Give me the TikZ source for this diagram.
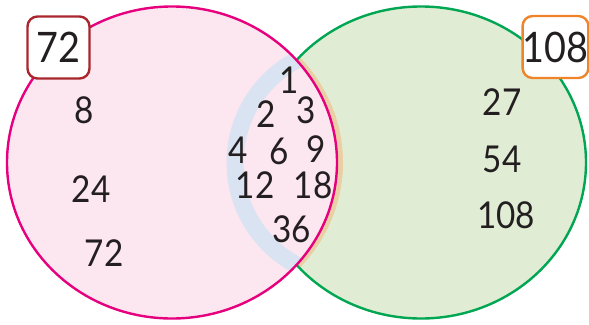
\documentclass[tikz,border=0pt]{standalone}
\usepackage{fontspec}
\setmainfont{Lato}[FakeStretch=0.9]
\definecolor{pinkfill}{HTML}{FCE6F0}
\definecolor{pinkline}{HTML}{E6007E}
\definecolor{greenfill}{HTML}{E0EDD4}
\definecolor{greenline}{HTML}{00A651}
\definecolor{bandblue}{HTML}{D9E3F1}
\definecolor{bandtan}{HTML}{EACFA4}
\definecolor{boxred}{HTML}{A8262C}
\definecolor{boxorange}{HTML}{F0842A}
\definecolor{numtext}{HTML}{231F20}
\tikzset{
  num/.style={inner sep=0pt, text=numtext, font=\fontsize{37}{37}\selectfont},
  setbox/.style={draw, line width=2.4pt, fill=white, rounded corners=10pt,
    minimum width=62pt, minimum height=62pt, inner sep=0pt, text=numtext,
    font=\fontsize{42}{42}\selectfont},
}
\begin{document}
\begin{tikzpicture}[x=1pt,y=-1pt]
\useasboundingbox (0,0) rectangle (589,324);
% green set
\fill[greenfill] (421,162.5) ellipse [x radius=165pt, y radius=156pt];
\begin{scope}
  \clip (421,162.5) ellipse [x radius=165pt, y radius=156pt];
  \fill[bandtan] (178,162.5) ellipse [x radius=165pt, y radius=156pt];
\end{scope}
\draw[greenline, line width=2.4pt] (421,162.5) ellipse [x radius=165pt, y radius=156pt];
% pink set
\fill[pinkfill] (172,162.5) ellipse [x radius=165pt, y radius=156pt];
\begin{scope}
  \clip (172,162.5) ellipse [x radius=165pt, y radius=156pt];
  \draw[bandblue, line width=17pt] (351,162.5) circle [radius=116pt];
\end{scope}
\draw[pinkline, line width=2.4pt] (172,162.5) ellipse [x radius=165pt, y radius=156pt];
% labels
\node[setbox, draw=boxred] (boxA) at (58.5,47.5) {72};
\node[setbox, draw=boxorange] (boxB) at (555.5,47) {108};
% left only
\node[num] (n8) at (84.5,110) {8};
\node[num] (n24) at (91,189) {24};
\node[num] (n72) at (104,253) {72};
% right only
\node[num] (n27) at (502,102) {27};
\node[num] (n54) at (502,159) {54};
\node[num] (n108) at (506,215.5) {108};
% common
\node[num] (c1) at (289.5,80) {1};
\node[num] (c2) at (266.5,114) {2};
\node[num] (c3) at (306,110.5) {3};
\node[num] (c4) at (238.5,150.5) {4};
\node[num] (c6) at (279,151) {6};
\node[num] (c9) at (316.5,149) {9};
\node[num] (c12) at (255,185.5) {12};
\node[num] (c18) at (313,185.5) {18};
\node[num] (c36) at (291.5,229) {36};
\end{tikzpicture}
\end{document}
